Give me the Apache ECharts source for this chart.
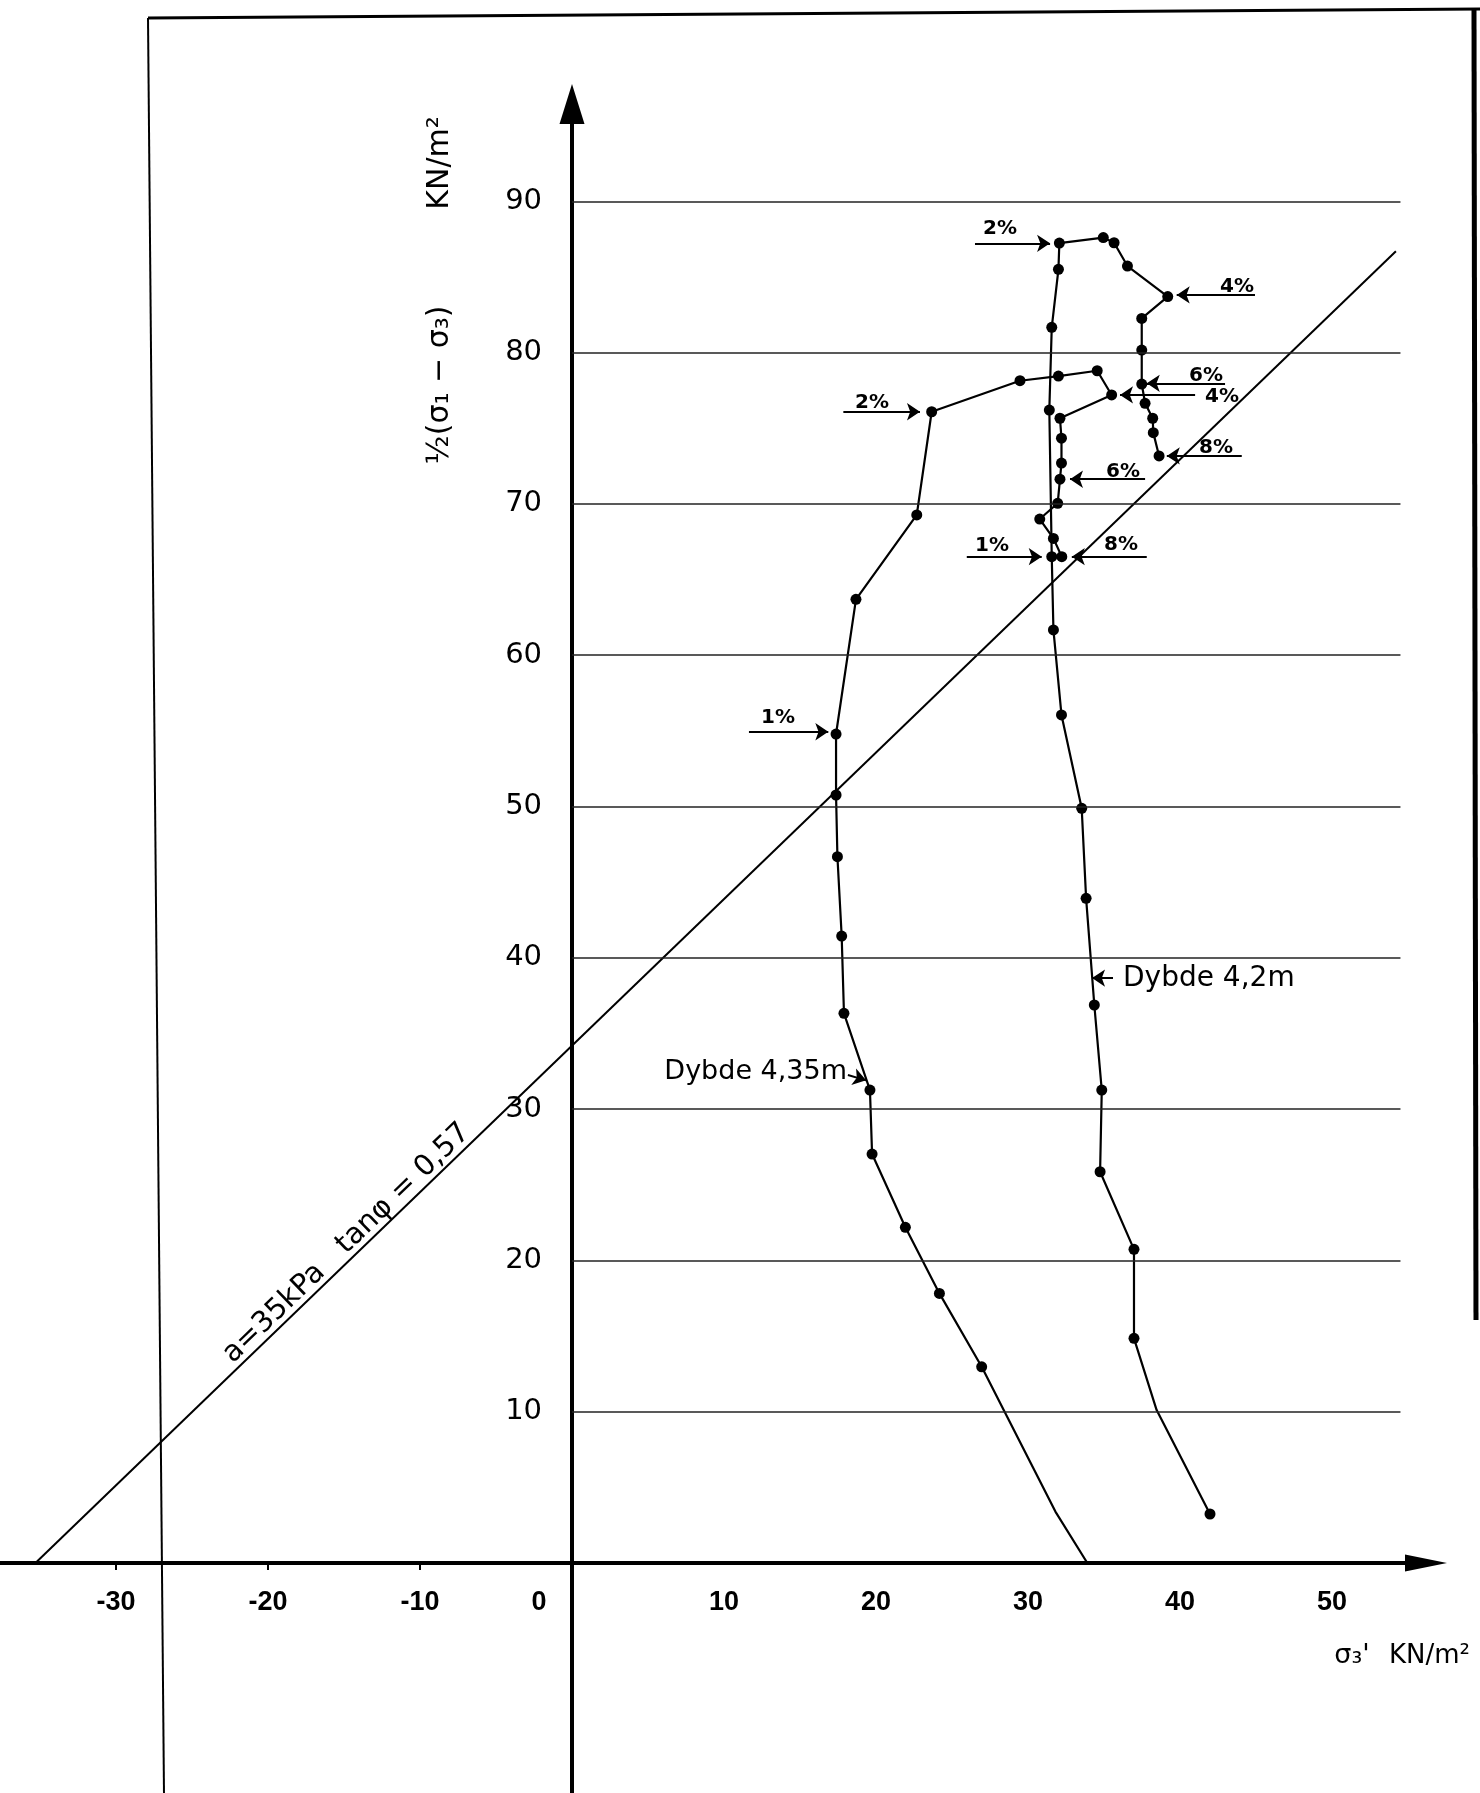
<!DOCTYPE html>
<html>
<head>
<meta charset="utf-8">
<title>Spenningsstier</title>
<script src="https://cdn.jsdelivr.net/npm/echarts@6.0.0/dist/echarts.min.js"></script>
<style>
  html, body { margin: 0; padding: 0; background: #fff; }
  #chart { width: 1480px; height: 1793px; }
</style>
</head>
<body>
<div id="chart"></div>
<script>
// Dybde 4,35m  (sigma3', 1/2(sigma1 - sigma3)) in KN/m2
const leftSigma3 = [33.9, 31.8, 26.95, 24.17, 21.93, 19.74, 19.6, 17.89, 17.74, 17.46, 17.37, 17.37,
  18.68, 22.68, 23.66, 29.47, 32.0, 34.55, 35.5, 32.1, 32.2, 32.2, 32.1, 31.95, 30.77, 31.67, 32.22]
const leftTau = [0.0, 3.4, 12.97, 17.82, 22.19, 27.03, 31.26, 36.33, 41.44, 46.68, 50.76, 54.79,
  63.69, 69.27, 76.09, 78.14, 78.45, 78.8, 77.2, 75.66, 74.34, 72.7, 71.63, 70.04, 69.0, 67.72, 66.51]
const leftDots = [0, 0, 1, 1, 1, 1, 1, 1, 1, 1, 1, 1, 1, 1, 1, 1, 1, 1, 1, 1, 1, 1, 1, 1, 1, 1, 1]

// Dybde 4,2m
const rightSigma3 = [41.97, 38.46, 36.97, 36.97, 34.74, 34.85, 34.36, 33.82, 33.53, 32.2, 31.67, 31.56,
  31.4, 31.56, 32.0, 32.06, 34.95, 35.66, 36.54, 39.19, 37.48, 37.48, 37.48, 37.7, 38.2, 38.24, 38.62]
const rightTau = [3.24, 10.11, 14.85, 20.73, 25.86, 31.26, 36.88, 43.93, 49.88, 56.05, 61.67, 66.51,
  76.2, 81.67, 85.5, 87.24, 87.6, 87.26, 85.72, 83.7, 82.26, 80.17, 77.92, 76.65, 75.66, 74.71, 73.17]
const rightDots = [1, 0, 1, 1, 1, 1, 1, 1, 1, 1, 1, 1, 1, 1, 1, 1, 1, 1, 1, 1, 1, 1, 1, 1, 1, 1, 1]

// brudd-linje  a = 35 kPa, tan(phi) = 0,57
const envelopeX = [-35.3, 54.2]
const envelopeY = [0, 86.7]

const xTicks = [-30, -20, -10, 0, 10, 20, 30, 40, 50]
const xTickMarks = [-30, -20, -10]
const yTicks = [10, 20, 30, 40, 50, 60, 70, 80, 90]

// toejningspiler
const strainText = ['1%', '2%', '4%', '6%', '8%', '1%', '2%', '4%', '6%', '8%']

// ---- plassering av tekst og piler (ikke data) ----
const strainArrowPos = [
  [25.97, 66.51, 30.9, 66.51], [26.51, 87.22, 31.45, 87.22], [44.93, 83.81, 39.78, 83.81],
  [42.96, 77.97, 37.81, 77.97], [44.06, 73.17, 39.13, 73.17],
  [11.64, 54.94, 16.86, 54.94], [17.85, 76.09, 22.89, 76.09], [40.99, 77.2, 36.05, 77.2],
  [37.7, 71.63, 32.76, 71.63], [37.81, 66.51, 32.88, 66.51]
]
const strainLabelPos = [
  [27.63, 67.22], [28.16, 88.17], [43.75, 84.34], [41.71, 78.45], [42.37, 73.69],
  [13.55, 55.85], [19.74, 76.68], [42.76, 77.07], [36.25, 72.11], [36.12, 67.28]
]
const gridEnd = 54.5
const xLabelRow = -2.58   // y-verdi for x-etikettene
const yLabelCol = -1.97   // x-verdi for hoeyrekant av y-etikettene
const zeroLabelShift = -2.17

const black = '#000'
const tickFont = { fontSize: 27, fontFamily: '"Liberation Sans Narrow", "Liberation Sans", Arial, sans-serif', fontWeight: 'bold', color: black, opacity: 1 }

function curveData(xs, ys, dots) {
  return xs.map((x, i) => dots[i] ? [x, ys[i]] : { value: [x, ys[i]], symbol: 'none' })
}

const textItems = strainText.map((t, i) => ({
  name: t,
  value: strainLabelPos[i],
  label: { fontSize: 20, fontWeight: 'bold', color: black, opacity: 1 }
}))
textItems.push(
  { name: 'Dybde 4,2m', value: [36.25, 38.6], label: { position: 'right', distance: 0, fontSize: 28, color: black, opacity: 1 } },
  { name: 'Dybde 4,35m', value: [18.09, 32.45], label: { position: 'left', distance: 0, fontSize: 27, color: black, opacity: 1 } },
  { name: 'a=35kPa   tanφ = 0,57', value: [-14.82, 21.13], label: { rotate: 44, fontSize: 29, color: black, opacity: 1 } }
)
xTicks.forEach(v => textItems.push({
  name: String(v),
  value: [v === 0 ? zeroLabelShift : v, xLabelRow],
  label: tickFont
}))
yTicks.forEach(v => textItems.push({
  name: String(v),
  value: [yLabelCol, v],
  label: { position: 'left', distance: 0, fontSize: 29, fontFamily: 'DejaVu Sans', color: black, opacity: 1 }
}))

const arrowLines = strainArrowPos.map(p => [{ coord: [p[0], p[1]] }, { coord: [p[2], p[3]] }])
arrowLines.push(
  [{ coord: [35.59, 38.66] }, { coord: [34.21, 38.66] }],
  [{ coord: [18.15, 32.25] }, { coord: [19.35, 31.9] }]
)

const chart = echarts.init(document.getElementById('chart'))

chart.setOption({
  animation: false,
  backgroundColor: '#fff',
  grid: { left: 0, right: 54, top: 104, bottom: 0, containLabel: false, outerBoundsMode: 'none' },
  xAxis: {
    type: 'value',
    min: -37.63,
    max: 56.18,
    axisLine: {
      onZero: true,
      symbol: ['none', 'triangle'],
      symbolSize: [17, 42],
      lineStyle: { color: black, width: 4 }
    },
    axisTick: { show: true, customValues: xTickMarks, length: 7, lineStyle: { color: black, width: 2 } },
    axisLabel: { show: false },
    splitLine: { show: false }
  },
  yAxis: {
    type: 'value',
    min: -15.2,
    max: 96.43,
    axisLine: {
      onZero: true,
      symbol: ['none', 'triangle'],
      symbolSize: [25, 40],
      lineStyle: { color: black, width: 4 }
    },
    axisTick: { show: false },
    axisLabel: { show: false },
    splitLine: { show: false }
  },
  graphic: [
    // ramme
    { type: 'line', shape: { x1: 148, y1: 18, x2: 1480, y2: 9 }, style: { stroke: black, lineWidth: 3 } },
    { type: 'line', shape: { x1: 148, y1: 18, x2: 164, y2: 1793 }, style: { stroke: black, lineWidth: 2 } },
    { type: 'line', shape: { x1: 1474, y1: 9, x2: 1476, y2: 1320 }, style: { stroke: black, lineWidth: 5 } },
    // aksetitler
    {
      type: 'text', x: 440, y: 385, rotation: Math.PI / 2,
      style: { text: '½(σ₁ − σ₃)', font: '30px "DejaVu Sans"', fill: black, align: 'center', verticalAlign: 'middle' }
    },
    {
      type: 'text', x: 440, y: 163, rotation: Math.PI / 2,
      style: { text: 'KN/m²', font: '30px "DejaVu Sans"', fill: black, align: 'center', verticalAlign: 'middle' }
    },
    {
      type: 'text', x: 1352, y: 1656,
      style: { text: 'σ₃\'', font: '27px "DejaVu Sans"', fill: black, align: 'center', verticalAlign: 'middle' }
    },
    {
      type: 'text', x: 1389, y: 1656,
      style: { text: 'KN/m²', font: '26px "DejaVu Sans"', fill: black, align: 'left', verticalAlign: 'middle' }
    }
  ],
  series: [
    {
      name: 'brudd',
      type: 'line',
      data: envelopeX.map((x, i) => [x, envelopeY[i]]),
      symbol: 'none',
      lineStyle: { color: black, width: 2 },
      z: 2,
      markLine: {
        silent: true,
        symbol: 'none',
        label: { show: false },
        lineStyle: { color: '#222', width: 1.6, type: 'solid' },
        data: yTicks.map(v => [{ coord: [0, v] }, { coord: [gridEnd, v] }])
      }
    },
    {
      name: 'Dybde 4,35m',
      type: 'line',
      data: curveData(leftSigma3, leftTau, leftDots),
      symbol: 'circle',
      symbolSize: 11,
      itemStyle: { color: black },
      lineStyle: { color: black, width: 2.2 },
      z: 3
    },
    {
      name: 'Dybde 4,2m',
      type: 'line',
      data: curveData(rightSigma3, rightTau, rightDots),
      symbol: 'circle',
      symbolSize: 11,
      itemStyle: { color: black },
      lineStyle: { color: black, width: 2.2 },
      z: 3
    },
    {
      name: 'tekst',
      type: 'scatter',
      data: textItems,
      symbolSize: 0,
      itemStyle: { color: black, opacity: 1 },
      label: {
        show: true,
        position: 'inside',
        formatter: '{b}',
        color: black,
        textBorderWidth: 0,
        fontFamily: 'DejaVu Sans'
      },
      z: 4,
      markLine: {
        silent: true,
        symbol: ['none', 'arrow'],
        symbolSize: 13,
        label: { show: false },
        lineStyle: { color: black, width: 2, type: 'solid' },
        data: arrowLines
      }
    }
  ]
})
</script>
</body>
</html>
